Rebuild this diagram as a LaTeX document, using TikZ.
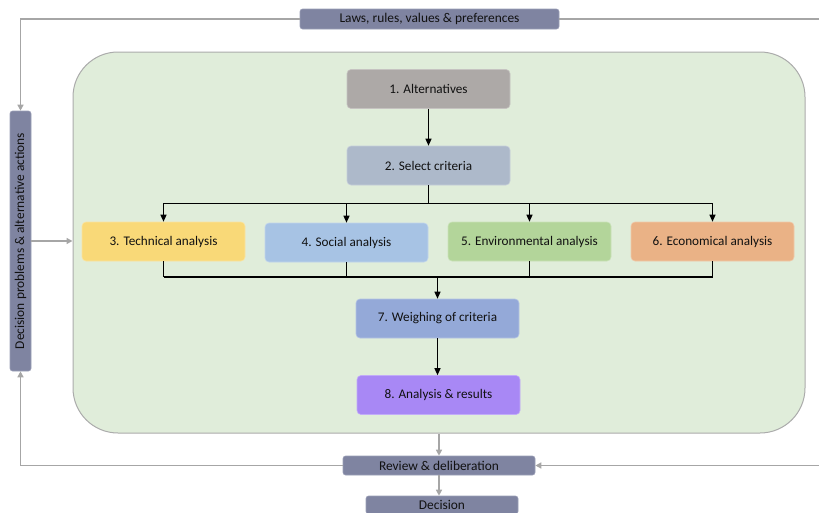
\documentclass[tikz,border=0pt]{standalone}
\usepackage{fontspec}
\setmainfont{Carlito}
\usetikzlibrary{arrows.meta,calc}

\definecolor{panelfill}{HTML}{E0EDDA}
\definecolor{panelline}{HTML}{ABABAB}
\definecolor{barfill}{HTML}{7F84A1}
\definecolor{barline}{HTML}{9A9EB6}
\definecolor{greyline}{HTML}{A6A6A6}
\definecolor{cAlt}{HTML}{ADA9A7}
\definecolor{cSel}{HTML}{ADB9CA}
\definecolor{cTech}{HTML}{F9D978}
\definecolor{cSoc}{HTML}{A7C3E4}
\definecolor{cEnv}{HTML}{B3D59A}
\definecolor{cEco}{HTML}{EAB286}
\definecolor{cWei}{HTML}{94A9D8}
\definecolor{cRes}{HTML}{A888F5}
\definecolor{inktext}{HTML}{111111}

\tikzset{
  stepbox/.style={rounded corners=4pt, minimum width=163pt, minimum height=39pt,
    inner sep=0pt, font=\fontsize{13.2}{15}\selectfont, text=inktext,
    fill=#1, draw=#1!70!white, line width=0.6pt},
  bar/.style={rounded corners=2.5pt, fill=barfill, draw=barline, line width=0.6pt,
    inner sep=0pt, font=\fontsize{13.4}{15}\selectfont, text=inktext},
  flow/.style={line width=1.2pt, draw=black},
  flowtip/.style={flow, -{Triangle[length=7pt,width=6pt]}},
  loop/.style={line width=1.4pt, draw=greyline},
  looptip/.style={loop, -{Triangle[length=6pt,width=6pt]}, greyline},
}

\begin{document}
\begin{tikzpicture}[x=1pt,y=-1pt]
\useasboundingbox (0,0) rectangle (819,512);

% central panel
\node[rounded corners=45pt, fill=panelfill, draw=panelline, line width=1pt,
      minimum width=732pt, minimum height=381pt, inner sep=0pt] (panel) at (439,242.5) {};

% outer framework bars
\node[bar, minimum width=259pt, minimum height=20pt] (laws) at (429.5,19) {Laws, rules, values \& preferences};
\node[bar, minimum width=21pt, minimum height=260pt] (dp) at (20.5,241)
  {\rotatebox{90}{Decision problems \& alternative actions}};
\node[bar, minimum width=192pt, minimum height=19pt] (review) at (439,465.5) {Review \& deliberation};
\node[bar, minimum width=152pt, minimum height=18pt] (decision) at (442,505) {Decision};

\coordinate (tr) at (819,19);
\coordinate (br) at (819,465.5);

% analysis steps
\node[stepbox=cAlt] (n1) at (428.5,89) {1. Alternatives};
\node[stepbox=cSel] (n2) at (428.5,165.5) {2. Select criteria};
\node[stepbox=cTech] (n3) at (163.5,241.5) {3. Technical analysis};
\node[stepbox=cSoc] (n4) at (346.5,242.5) {4. Social analysis};
\node[stepbox=cEnv] (n5) at (529.5,241.5) {5. Environmental analysis};
\node[stepbox=cEco] (n6) at (712.5,241.5) {6. Economical analysis};
\node[stepbox=cWei] (n7) at (437.5,318.5) {7. Weighing of criteria};
\node[stepbox=cRes] (n8) at (438.5,395) {8. Analysis \& results};

% split and merge rails
\coordinate (split) at ($(n2.south)+(0,18)$);
\coordinate (merge) at (n7 |- 0,277);

% flow inside the panel
\draw[flowtip] (n1) -- (n2);
\draw[flow] (n2.south) -- (split);
\draw[flow] (split -| n3) -- (split -| n6);
\foreach \n in {n3,n4,n5,n6}{
  \draw[flowtip] (split -| \n) -- (\n.north);
  \draw[flow] (\n.south) -- (merge -| \n);
}
\draw[flow] (merge -| n3) -- (merge -| n6);
\draw[flowtip] (merge) -- (n7.north);
\draw[flowtip] (n7.south) -- (n7.south |- n8.north);

% feedback loop around the panel
\draw[looptip] (laws.west) -| (dp.north);
\draw[loop] (laws.east) -- (tr);
\draw[looptip] (dp.east) -- (dp.east -| panel.west);
\draw[looptip] (review.west) -| (dp.south);
\draw[looptip] (br) -- (review.east);
\draw[looptip] (panel.south -| review.north) -- (review.north);
\draw[looptip] (review.south) -- (review.south |- decision.north);
\end{tikzpicture}
\end{document}
